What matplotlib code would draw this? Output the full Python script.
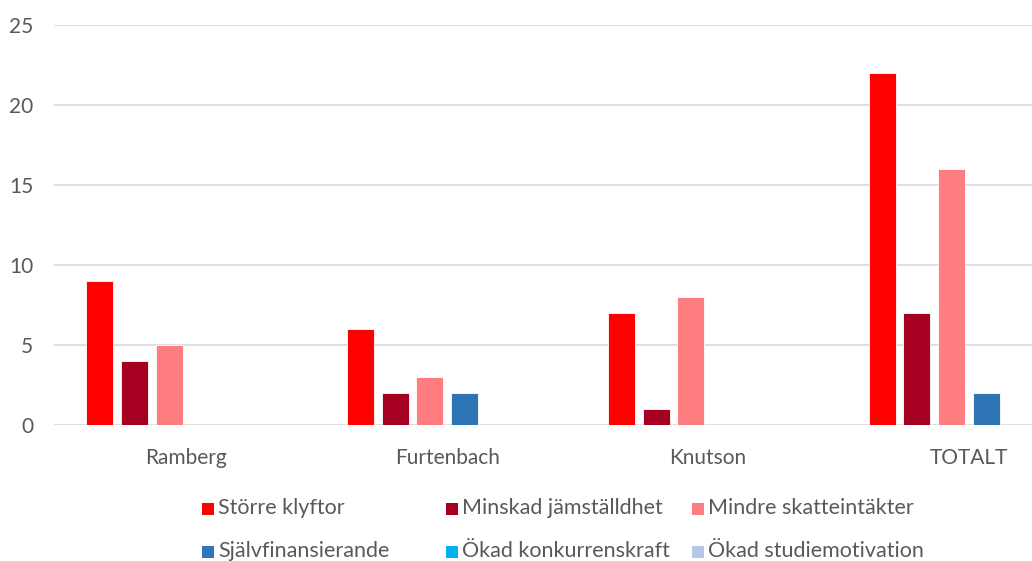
import matplotlib
matplotlib.use("Agg")

import matplotlib.pyplot as plt
import numpy as np
from matplotlib.patches import Rectangle

# -----------------------------
# Data
# -----------------------------

categories = ["Ramberg", "Furtenbach", "Knutson", "TOTALT"]

series_names = [
    "Större klyftor",
    "Minskad jämställdhet",
    "Mindre skatteintäkter",
    "Självfinansierande",
    "Ökad konkurrenskraft",
    "Ökad studiemotivation",
]

storre_klyftor = [9, 6, 7, 22]
minskad_jamstalldhet = [4, 2, 1, 7]
mindre_skatteintakter = [5, 3, 8, 16]
sjalvfinansierande = [0, 2, 0, 2]
okad_konkurrenskraft = [0, 0, 0, 0]
okad_studiemotivation = [0, 0, 0, 0]

series_values = [
    storre_klyftor,
    minskad_jamstalldhet,
    mindre_skatteintakter,
    sjalvfinansierande,
    okad_konkurrenskraft,
    okad_studiemotivation,
]

colors = ["#FF0000", "#A50021", "#FF7C80", "#2E75B6", "#00B0F0", "#B4C7E7"]

# -----------------------------
# Figure
# -----------------------------

plt.rcParams["font.family"] = ["Lato", "DejaVu Sans"]

W, H = 1032, 561
fig = plt.figure(figsize=(W / 100, H / 100), dpi=100)

ax = fig.add_axes([54 / W, (H - 425) / H, 1 - 54 / W, 400 / H])

x = np.arange(len(categories))
pitch = 0.133
width = 0.1035

for i, (name, vals) in enumerate(zip(series_names, series_values)):
    offset = (i - 2.5) * pitch
    ax.bar(
        x + offset,
        vals,
        width=width,
        color=colors[i],
        edgecolor="white",
        linewidth=0.6,
        zorder=3,
    )

ax.set_xlim(-0.508, 3.242)
ax.set_ylim(0, 25)
ax.set_yticks(range(0, 26, 5))
ax.set_xticks(x)
ax.set_xticklabels(categories)

ax.grid(axis="y", color="#D9D9D9", linewidth=1.2, zorder=0)
ax.set_axisbelow(True)

for s in ax.spines.values():
    s.set_visible(False)

ax.tick_params(axis="both", length=0, colors="#595959", labelsize=15)
ax.tick_params(axis="y", pad=15)
ax.tick_params(axis="x", pad=16.5)

# -----------------------------
# Legend (manual, row-major)
# -----------------------------

col_x = [202, 446, 692]
row_y = [509, 552]
sq = 12

for i, name in enumerate(series_names):
    r, c = divmod(i, 3)
    px, py = col_x[c], row_y[r]
    fig.patches.append(
        Rectangle(
            (px / W, (H - py - sq / 2) / H),
            sq / W,
            sq / H,
            transform=fig.transFigure,
            facecolor=colors[i],
            edgecolor="none",
        )
    )
    fig.text(
        (px + sq + 4) / W,
        (H - py + 1) / H,
        name,
        ha="left",
        va="center",
        fontsize=15.5,
        color="#595959",
    )

plt.savefig("out.png", dpi=100)
plt.close("all")
